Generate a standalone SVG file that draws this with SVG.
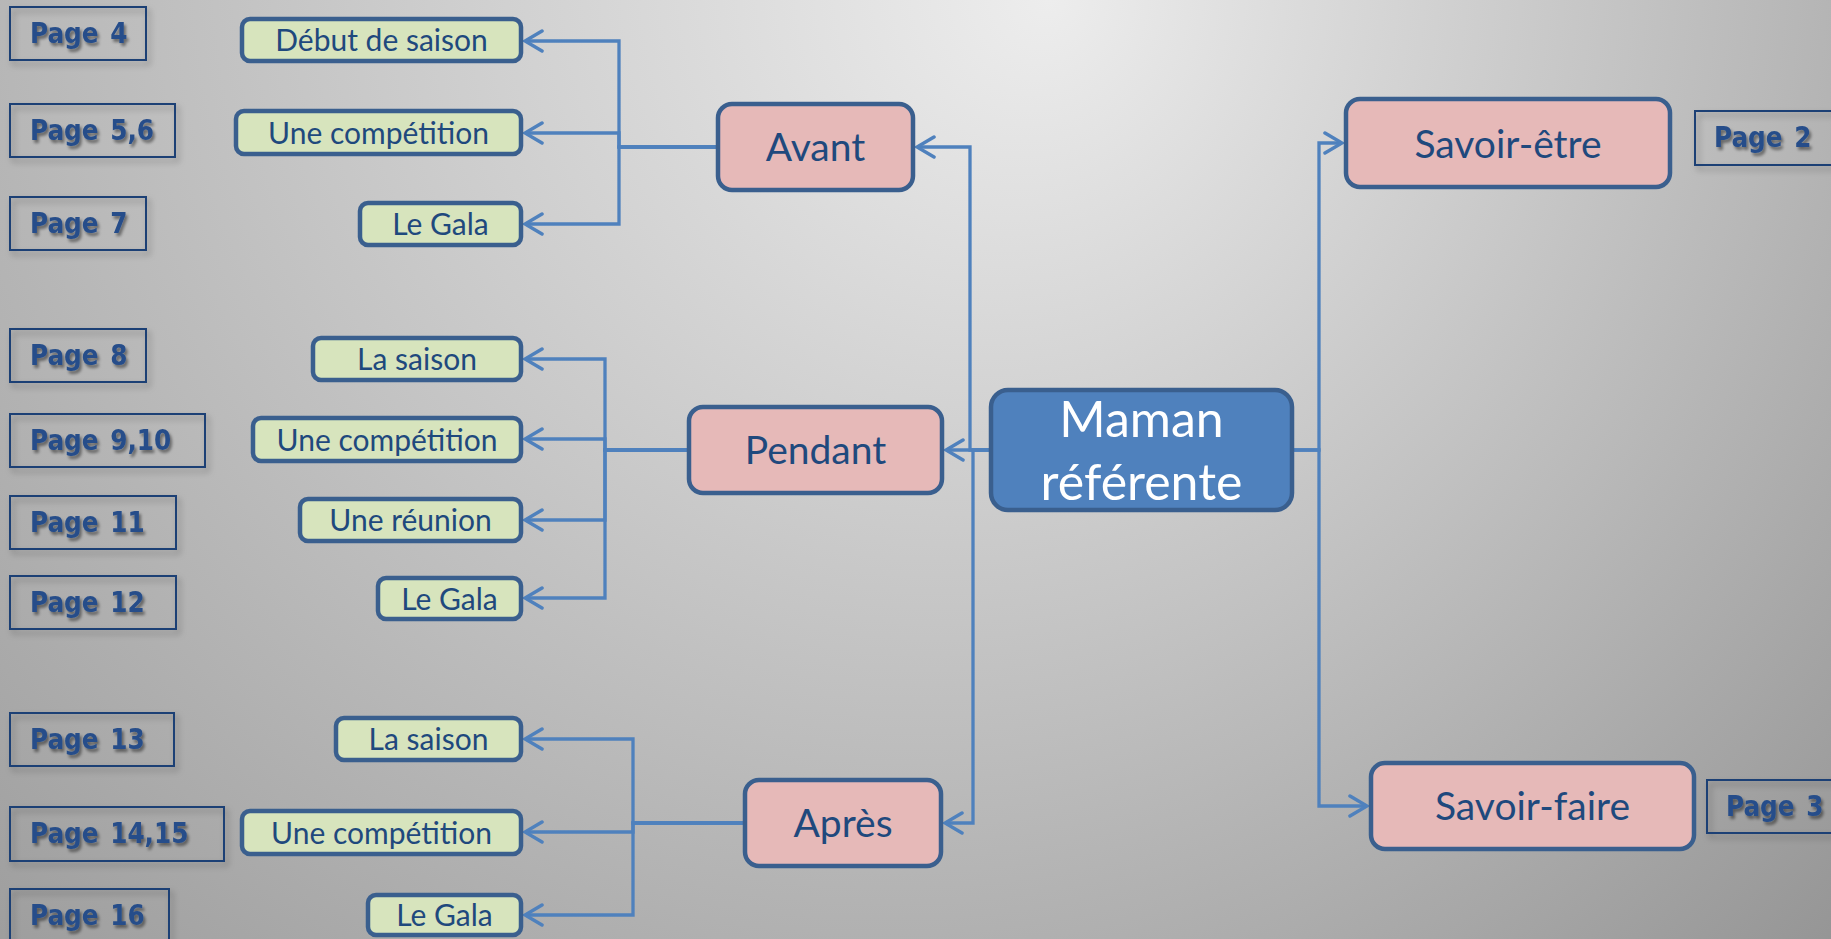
<svg xmlns="http://www.w3.org/2000/svg" width="1831" height="939" viewBox="0 0 1831 939">
<defs>
  <radialGradient id="bg" gradientUnits="userSpaceOnUse" cx="800" cy="-100" r="1500" fx="1050" fy="0">
    <stop offset="0" stop-color="#ededed"/>
    <stop offset="1" stop-color="#939393"/>
  </radialGradient>
  <marker id="arr" viewBox="-20 -13 22 26" markerWidth="22" markerHeight="26" refX="0" refY="0" orient="auto" markerUnits="userSpaceOnUse">
    <path d="M-17,-10 L0,0 L-17,10" fill="none" stroke="#4f81bd" stroke-width="3.5" stroke-linecap="round" stroke-linejoin="miter"/>
  </marker>
  <filter id="bsh" x="-10%" y="-20%" width="130%" height="160%">
    <feDropShadow dx="3" dy="4" stdDeviation="3" flood-color="#000" flood-opacity="0.3"/>
  </filter>
  <filter id="tsh" x="-10%" y="-30%" width="130%" height="170%">
    <feDropShadow dx="2" dy="3" stdDeviation="1.8" flood-color="#000" flood-opacity="0.45"/>
  </filter>
  <style>
    .conn{fill:none;stroke:#4f81bd;stroke-width:3.3;marker-end:url(#arr)}
    .green rect{fill:#d7e4bd;stroke:#3a5f8e;stroke-width:4.5}
    .pink rect{fill:#e6b9b8;stroke:#3a5f8e;stroke-width:4.5}
    .main rect{fill:#4f81bd;stroke:#3a5f8e;stroke-width:4.5}
    .page rect{fill:none;stroke:#1f3f74;stroke-width:2;filter:url(#bsh)}
    .t{font-family:Lato,'Open Sans',sans-serif;fill:#1f497d;text-anchor:middle}
    .green text{font-size:30px}
    .pink text{font-size:39px}
    .main text{font-size:50px;fill:#ffffff}
    .page text{font-family:'DejaVu Sans Condensed','DejaVu Sans',sans-serif;font-weight:bold;font-size:27.5px;fill:#274e8a;word-spacing:3px;filter:url(#tsh)}
  </style>
</defs>
<rect x="0" y="0" width="1831" height="939" fill="url(#bg)"/>

<g id="connectors">
  <path class="conn" d="M716,147 H619 V41 H525"/>
  <path class="conn" d="M716,147 H619 V133 H525"/>
  <path class="conn" d="M716,147 H619 V224 H525"/>
  <path class="conn" d="M687,450 H605 V359 H525"/>
  <path class="conn" d="M687,450 H605 V439 H525"/>
  <path class="conn" d="M687,450 H605 V520 H525"/>
  <path class="conn" d="M687,450 H605 V598 H525"/>
  <path class="conn" d="M743,823 H633 V739 H525"/>
  <path class="conn" d="M743,823 H633 V832 H525"/>
  <path class="conn" d="M743,823 H633 V915 H525"/>
  <path class="conn" d="M989,450 H970 V147 H917"/>
  <path class="conn" d="M989,450 H946"/>
  <path class="conn" d="M989,450 H973 V823 H945"/>
  <path class="conn" d="M1294,450 H1319 V143 H1342"/>
  <path class="conn" d="M1294,450 H1319 V806 H1367"/>
</g>

<g id="maman" class="main">
  <rect x="991" y="390" width="301" height="120" rx="17"/>
  <text class="t" x="1141.5" y="437">Maman</text>
  <text class="t" x="1141.5" y="500">référente</text>
</g>

<g id="avant" class="pink"><rect x="718" y="104" width="195" height="86" rx="14"/><text class="t" x="815.5" y="161">Avant</text></g>
<g id="pendant" class="pink"><rect x="689" y="407" width="253" height="86" rx="14"/><text class="t" x="815.5" y="464">Pendant</text></g>
<g id="apres" class="pink"><rect x="745" y="780" width="196" height="86" rx="14"/><text class="t" x="843" y="837">Après</text></g>
<g id="savoir-etre" class="pink"><rect x="1346" y="99" width="324" height="88" rx="14"/><text class="t" x="1508" y="158">Savoir-être</text></g>
<g id="savoir-faire" class="pink"><rect x="1371" y="763" width="323" height="86" rx="14"/><text class="t" x="1532.5" y="820">Savoir-faire</text></g>

<g id="avant-debut" class="green"><rect x="242" y="19" width="279" height="42" rx="8"/><text class="t" x="381.5" y="51">Début de saison</text></g>
<g id="avant-competition" class="green"><rect x="236" y="111" width="285" height="43" rx="8"/><text class="t" x="378.5" y="143.5">Une compétition</text></g>
<g id="avant-gala" class="green"><rect x="360" y="203" width="161" height="42" rx="8"/><text class="t" x="440.5" y="235">Le Gala</text></g>

<g id="pendant-saison" class="green"><rect x="313" y="338" width="208" height="42" rx="8"/><text class="t" x="417" y="370">La saison</text></g>
<g id="pendant-competition" class="green"><rect x="253" y="418" width="268" height="43" rx="8"/><text class="t" x="387" y="450.5">Une compétition</text></g>
<g id="pendant-reunion" class="green"><rect x="300" y="499" width="221" height="42" rx="8"/><text class="t" x="410.5" y="531">Une réunion</text></g>
<g id="pendant-gala" class="green"><rect x="378" y="578" width="143" height="41" rx="8"/><text class="t" x="449.5" y="609.5">Le Gala</text></g>

<g id="apres-saison" class="green"><rect x="336" y="718" width="185" height="42" rx="8"/><text class="t" x="428.5" y="750">La saison</text></g>
<g id="apres-competition" class="green"><rect x="242" y="811" width="279" height="43" rx="8"/><text class="t" x="381.5" y="843.5">Une compétition</text></g>
<g id="apres-gala" class="green"><rect x="368" y="895" width="153" height="40" rx="8"/><text class="t" x="444.5" y="926">Le Gala</text></g>

<g id="page4" class="page"><rect x="10" y="7" width="136" height="53"/><text x="30" y="43">Page 4</text></g>
<g id="page56" class="page"><rect x="10" y="104" width="165" height="53"/><text x="30" y="140">Page 5,6</text></g>
<g id="page7" class="page"><rect x="10" y="197" width="136" height="53"/><text x="30" y="233">Page 7</text></g>
<g id="page8" class="page"><rect x="10" y="329" width="136" height="53"/><text x="30" y="365">Page 8</text></g>
<g id="page910" class="page"><rect x="10" y="414" width="195" height="53"/><text x="30" y="450">Page 9,10</text></g>
<g id="page11" class="page"><rect x="10" y="496" width="166" height="53"/><text x="30" y="532">Page 11</text></g>
<g id="page12" class="page"><rect x="10" y="576" width="166" height="53"/><text x="30" y="612">Page 12</text></g>
<g id="page13" class="page"><rect x="10" y="713" width="164" height="53"/><text x="30" y="749">Page 13</text></g>
<g id="page1415" class="page"><rect x="10" y="807" width="214" height="54"/><text x="30" y="843">Page 14,15</text></g>
<g id="page16" class="page"><rect x="10" y="889" width="159" height="56"/><text x="30" y="925">Page 16</text></g>
<g id="page2" class="page"><rect x="1695" y="111" width="140" height="54"/><text x="1714" y="147">Page 2</text></g>
<g id="page3" class="page"><rect x="1707" y="780" width="130" height="53"/><text x="1726" y="816">Page 3</text></g>
</svg>
